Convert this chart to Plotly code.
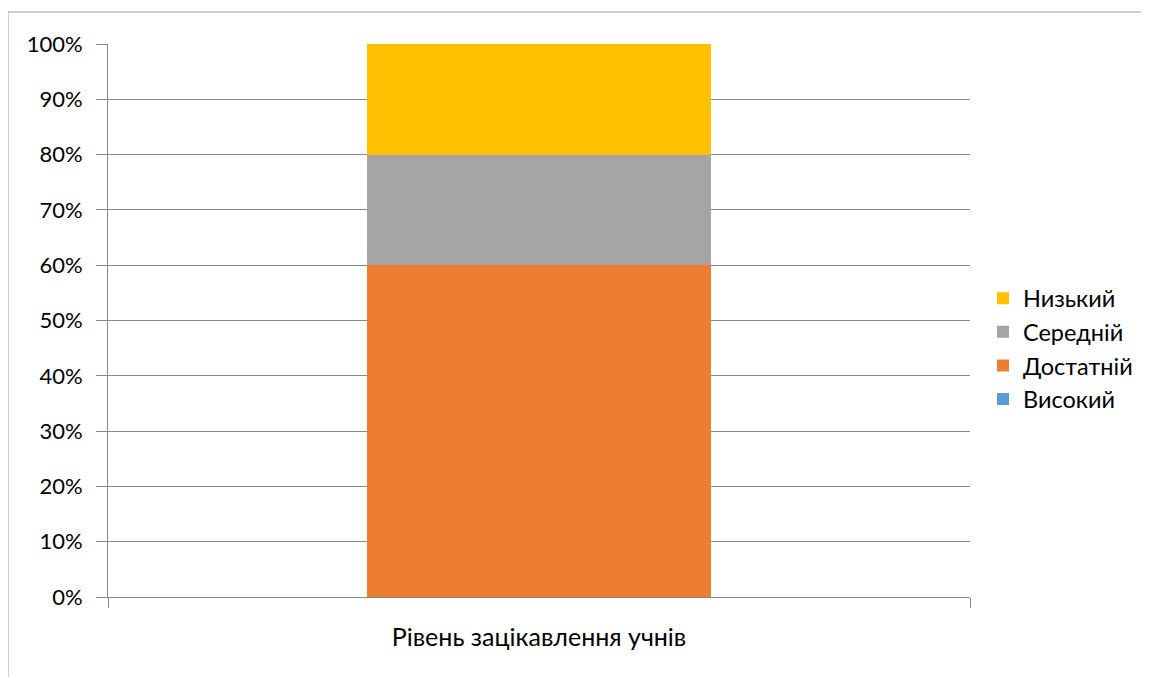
import plotly.graph_objects as go

categories = ["Рівень зацікавлення учнів"]
series_names = ["Високий", "Достатній", "Середній", "Низький"]
series_values = [[0.0], [0.6], [0.2], [0.2]]
series_colors = ["#5B9BD5", "#ED7D31", "#A5A5A5", "#FFC000"]
y_ticks = [i / 10 for i in range(11)]
y_tick_labels = [f"{i * 10}%" for i in range(11)]

W, H = 1141, 669
ml, mr, mt, mb = 100, 179, 36, 80
PW, PH = W - ml - mr, H - mt - mb

fig = go.Figure()
for name, vals, col in zip(series_names, series_values, series_colors):
    fig.add_trace(go.Bar(x=categories, y=vals, name=name, marker_color=col,
                         marker_line_width=0, width=0.4))

fig.update_layout(
    width=W, height=H, barmode="stack",
    margin=dict(l=ml, r=mr, t=mt, b=mb, autoexpand=False),
    paper_bgcolor="white", plot_bgcolor="white",
    font=dict(family="Lato, Carlito, sans-serif", size=22, color="#000000"),
    legend=dict(traceorder="reversed", x=1.0 + 13 / PW, xanchor="left",
                y=0.5 - 28.5 / PH, yanchor="middle",
                font=dict(size=23.5), tracegroupgap=0, borderwidth=0,
                bgcolor="rgba(0,0,0,0)"),
    showlegend=True,
)
fig.update_xaxes(
    type="category", range=[-0.5, 0.5], tickson="boundaries",
    ticks="outside", ticklen=10, tickcolor="#898989", tickwidth=1,
    showline=True, linecolor="#898989", linewidth=1,
    showgrid=False, ticklabelstandoff=18, tickfont=dict(size=25),
)
fig.update_yaxes(
    range=[0, 1], tickvals=y_ticks, ticktext=y_tick_labels,
    ticks="outside", ticklen=11, tickcolor="#898989", tickwidth=1,
    showline=True, linecolor="#898989", linewidth=1,
    showgrid=True, gridcolor="#898989", gridwidth=1,
    zeroline=False, tickfont=dict(size=22), ticklabelstandoff=9,
)

# outer chart frame (extends beyond the visible region, as in the reference)
fig.add_shape(type="rect", xref="paper", yref="paper",
              x0=(0 - ml) / PW, x1=(W + 20 - ml) / PW,
              y0=(H - mb - (H + 20)) / PH, y1=(H - mb - 4) / PH,
              line=dict(color="#A0A0A0", width=1), layer="below")

fig.write_html("out.html")
